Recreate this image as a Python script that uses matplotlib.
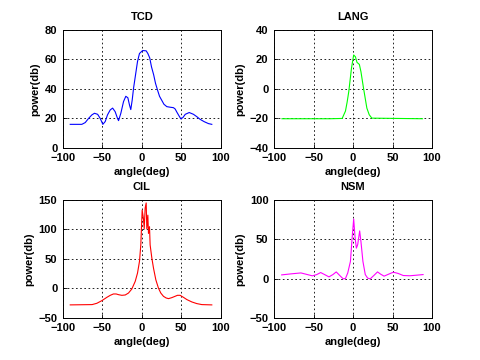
import matplotlib
matplotlib.use("Agg")
import matplotlib.pyplot as plt

plt.rcParams["font.family"] = ["Liberation Sans", "DejaVu Sans"]
plt.rcParams["font.weight"] = "bold"
plt.rcParams["font.size"] = 8

# TCD (blue)
tcd_x = [-90.7, -76, -71.7, -67.5, -63.3, -60, -56, -52.7, -49.4, -46.4, -43.5, -40, -37,
         -33.8, -30.8, -29.5, -26.6, -23.2, -20.3, -17.7, -15.6, -14, -12.2, -10.5, -8, -5.5,
         -3, 1, 5.5, 7.6, 10, 12.2, 15, 17.3, 20, 22.4, 25, 28, 31.6, 35.9, 40, 42.2, 44,
         46.8, 49.4, 52, 55, 60, 65.4, 69.6, 73.8, 79, 84.4, 88.6]
tcd_y = [16, 16, 17.2, 20, 22.4, 23.5, 22.8, 20, 16, 17.9, 22.4, 25.8, 27,
         24.6, 20, 18.5, 23.5, 31.4, 35, 34, 29, 26, 32.5, 40.5, 49.5, 58.5,
         64, 66, 65.8, 64, 61, 55, 49.5, 43.8, 39, 35, 32.5, 29.6, 28, 27.6, 27.3, 26.4, 24.6,
         22, 19.7, 20.6, 22.8, 24, 22.8, 21.2, 19.4, 17.8, 16.5, 16]

# LANG (green)
lang_x = [-90, -29, -13.75, -9.6, -7.5, -5.4, -2, 0.8, 3, 5, 8, 10, 13.3, 17.5, 20.5, 23.8, 88]
lang_y = [-20.2, -20.2, -20, -15, -9, -1.8, 14, 23, 21.8, 18, 16.6, 11.7, 0.4, -13, -17.5, -19.8, -20.2]

# CIL (red)
cil_x = [-90.7, -63, -57, -50.6, -44.3, -40, -36, -32.5, -29.5, -25.3, -21, -16.9, -12.7,
         -8.4, -5.5, -3, -1.3, 0.4, 2, 3, 4.2, 5.5, 6.3, 7.6, 8.4, 9.7, 10.5, 12.7, 14.8,
         17.7, 21, 24, 27.4, 30.8, 33.8, 38, 42, 45.1, 48.5, 52.7, 57, 63.3, 69.6, 76, 88.6]
cil_y = [-28, -27.5, -25.3, -20.8, -15.2, -11.8, -9.5, -9.5, -10.7, -11.8, -11.2, -7.9, -1.1,
         11.8, 25.8, 45.5, 73.6, 132.6, 118.5, 101, 136, 144.7, 101, 124, 93, 104.5, 73.6, 51, 34,
         14.6, 0.5, -7.9, -13.5, -16.3, -17.4, -15.7, -13.5, -11.8, -11.8, -15.2, -19, -23, -25.8, -27.5, -28]

# NSM (magenta)
nsm_x = [-90.4, -78.7, -66, -57.7, -51.5, -46, -41, -36, -30.5, -25.5, -21.3, -17.2, -12.5,
         -9.6, -6.7, -3.3, -1.2, 0.8, 2.5, 4.2, 5.9, 8.4, 10, 12.5, 15.5, 18.5, 21.8, 26.5,
         31, 35, 39.3, 45, 51, 57, 63.6, 72, 80, 88.7]
nsm_y = [4.6, 5.9, 7.1, 5, 3.4, 5, 7.6, 5, 2.1, 5, 8.4, 4.2, -0.4,
         0, 7.1, 21.8, 51, 75.6, 53, 38.6, 43, 60.5, 47, 21.8, 5, 0.5, -0.4, 4,
         8.4, 5.5, 3, 5.5, 8, 6.5, 3.8, 3.5, 4.2, 5]

panels = [
    ("TCD", tcd_x, tcd_y, "#0000ff", (0, 80), [0, 20, 40, 60, 80]),
    ("LANG", lang_x, lang_y, "#00ff00", (-40, 40), [-40, -20, 0, 20, 40]),
    ("CIL", cil_x, cil_y, "#ff0000", (-50, 150), [-50, 0, 50, 100, 150]),
    ("NSM", nsm_x, nsm_y, "#ff00ff", (-50, 100), [-50, 0, 50, 100]),
]
rects = [
    [0.131, 0.589, 0.329, 0.328],
    [0.571, 0.589, 0.329, 0.328],
    [0.131, 0.117, 0.329, 0.328],
    [0.571, 0.117, 0.329, 0.328],
]

fig = plt.figure(figsize=(4.8, 3.6), dpi=100)
fig.patch.set_facecolor("white")
for (title, xs, ys, color, ylim, yticks), rect in zip(panels, rects):
    ax = fig.add_axes(rect)
    ax.plot(xs, ys, color=color, linewidth=0.8)
    ax.set_xlim(-100, 100)
    ax.set_ylim(*ylim)
    ax.set_xticks([-100, -50, 0, 50, 100])
    ax.set_yticks(yticks)
    ax.grid(True, color="black", linestyle=(0, (2, 3)), linewidth=0.6)
    ax.tick_params(direction="in", length=3, width=0.6, labelsize=8)
    ax.tick_params(axis="x", pad=3.5)
    ax.tick_params(axis="y", pad=4)
    for s in ax.spines.values():
        s.set_linewidth(0.7)
    ax.set_title(title, fontsize=8, fontweight="bold", pad=7)
    ax.set_xlabel("angle(deg)", fontsize=8, fontweight="bold", labelpad=3)
    ax.set_ylabel("power(db)", fontsize=8, fontweight="bold", labelpad=3)

fig.savefig("out.png", dpi=100, facecolor="white")
